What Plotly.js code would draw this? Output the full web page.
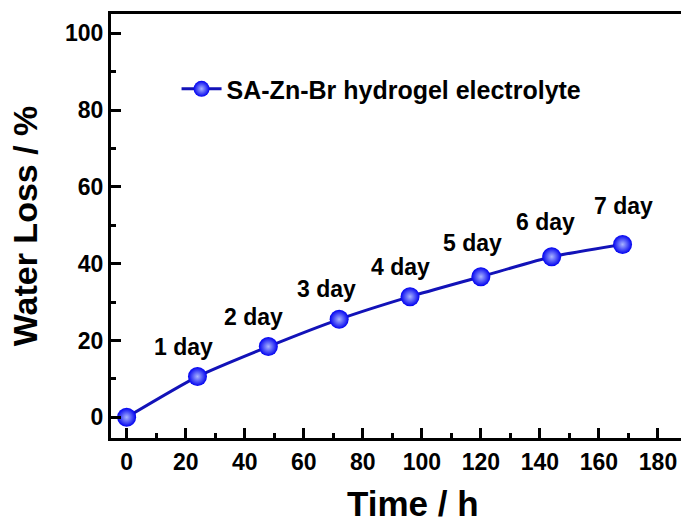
<!DOCTYPE html>
<html>
<head>
<meta charset="utf-8">
<script src="https://cdn.plot.ly/plotly-3.0.1.min.js"></script>
<style>html,body{margin:0;padding:0;background:#fff;}#chart{width:681px;height:522px;}</style>
</head>
<body>
<div id="chart"></div>
<script>
// ---- data ----
const timeHours = [0, 24, 48, 72, 96, 120, 144, 168];
const waterLoss = [0, 10.6, 18.4, 25.5, 31.4, 36.6, 41.8, 45.0];
const dayLabels = ["", "1 day", "2 day", "3 day", "4 day", "5 day", "6 day", "7 day"];
const seriesName = "SA-Zn-Br hydrogel electrolyte";
const xTickVals = [0, 20, 40, 60, 80, 100, 120, 140, 160, 180];
const yTickVals = [0, 20, 40, 60, 80, 100];

// ---- style (label offsets in px) ----
const labelDX = [0, -14, -15, -13, -10, -8, -6, 1];
const labelDY = [0, 30, 30, 30, 30, 34, 35, 38];

const FONT = "Liberation Sans, Arial, sans-serif";
const annotations = [];
for (let i = 0; i < timeHours.length; i++) {
  if (!dayLabels[i]) continue;
  annotations.push({
    x: timeHours[i], y: waterLoss[i], xref: 'x', yref: 'y',
    text: '<b>' + dayLabels[i] + '</b>', showarrow: false,
    xshift: labelDX[i], yshift: labelDY[i],
    font: {family: FONT, size: 23, color: '#000'}
  });
}
annotations.push({
  xref: 'paper', yref: 'paper', x: 0.53, y: -0.104, xanchor: 'center', yanchor: 'top',
  text: '<b>Time / h</b>', showarrow: false,
  font: {family: FONT, size: 35, color: '#000'}
});

const trace = {
  x: timeHours, y: waterLoss, name: '<b>' + seriesName + '</b>',
  type: 'scatter', mode: 'lines+markers',
  line: {color: '#1212b8', width: 3, shape: 'spline', smoothing: 0.6},
  marker: {size: 19, color: '#0000f0',
           gradient: {type: 'radial', color: '#a8b4ff'},
           line: {width: 0}}
};

const layout = {
  width: 681, height: 522,
  margin: {l: 111, r: 0, t: 14, b: 84},
  paper_bgcolor: '#fff', plot_bgcolor: '#fff',
  showlegend: true,
  legend: {x: 0.115, y: 0.823, xanchor: 'left', yanchor: 'middle',
           bgcolor: 'rgba(0,0,0,0)', borderwidth: 0, itemwidth: 40,
           font: {family: FONT, size: 25, color: '#000'}},
  font: {family: FONT, color: '#000'},
  xaxis: {
    range: [-5.3, 187.8], tickvals: xTickVals, ticktext: xTickVals.map(v => '<b>' + v + '</b>'),
    showgrid: false, zeroline: false, showline: true, linecolor: '#000', linewidth: 3,
    mirror: true, ticks: 'inside', ticklen: 10, tickwidth: 3, tickcolor: '#000',
    minor: {dtick: 10, tick0: 0, ticks: 'inside', ticklen: 5, tickwidth: 3, tickcolor: '#000'},
    tickfont: {family: FONT, size: 23, color: '#000'}, ticklabelstandoff: 1
  },
  yaxis: {
    range: [-5.4, 105], tickvals: yTickVals, ticktext: yTickVals.map(v => '<b>' + v + '</b>'),
    showgrid: false, zeroline: false, showline: true, linecolor: '#000', linewidth: 3,
    ticks: 'inside', ticklen: 10, tickwidth: 3, tickcolor: '#000',
    minor: {dtick: 10, tick0: 0, ticks: 'inside', ticklen: 5, tickwidth: 3, tickcolor: '#000'},
    tickfont: {family: FONT, size: 23, color: '#000'}, ticklabelstandoff: 0,
    title: {text: '<b>Water Loss / %</b>', font: {family: FONT, size: 34, color: '#000'}, standoff: 18}
  },
  annotations: annotations
};

Plotly.newPlot('chart', [trace], layout, {displayModeBar: false, staticPlot: true});
</script>
</body>
</html>
